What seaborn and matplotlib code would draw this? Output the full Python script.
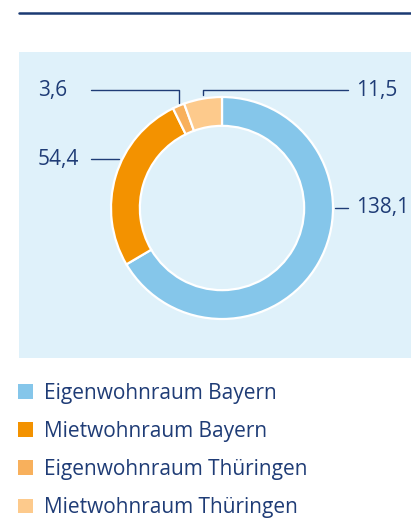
import numpy as np
import matplotlib
matplotlib.use("Agg")
import matplotlib.pyplot as plt
from matplotlib.lines import Line2D
import seaborn as sns

sns.set_theme(style="white")
plt.rcParams['font.family'] = ['Open Sans', 'DejaVu Sans']

# data
categories = ['Eigenwohnraum Bayern', 'Mietwohnraum Bayern',
              'Eigenwohnraum Thüringen', 'Mietwohnraum Thüringen']
values = [138.1, 54.4, 3.6, 11.5]
value_labels = ['138,1', '54,4', '3,6', '11,5']
colors = ['#85c6ea', '#f39200', '#f8b05c', '#fdca8c']

navy = '#1f3c76'
panel = '#dff1fa'

W, H = 411, 522
fig = plt.figure(figsize=(W / 100, H / 100), dpi=100)

# top rule
fig.add_artist(Line2D([19 / W, 1], [1 - 12.5 / H, 1 - 12.5 / H], color='#1b3a73', lw=1.8))

# chart panel (pixels: x 19..411, y 52..358), donut center (222, 208), r = 111 px
left, top, bottom = 19, 52, 358
cx, cy, rpx = 222, 208, 111
ax = fig.add_axes([left / W, 1 - bottom / H, (W - left) / W, (bottom - top) / H])

wedges, _ = ax.pie(values, colors=colors, startangle=90, counterclock=False,
                   radius=1.0,
                   wedgeprops=dict(width=0.26, edgecolor='white', linewidth=1.6))
ax.set_xlim(-(cx - left) / rpx, (W - cx) / rpx)
ax.set_ylim(-(bottom - cy) / rpx, (cy - top) / rpx)
ax.set_aspect('auto')
ax.set_frame_on(True)
ax.set_facecolor(panel)
for s in ax.spines.values():
    s.set_visible(False)
ax.set_xticks([])
ax.set_yticks([])

# leader lines and value labels
lw = 1.0
fs = 15
x_left_text, x_left_line = -1.658, -1.18
x_right_text, x_right_line = 1.207, 1.135
top_y = 1.063

for w, lab in zip(wedges, value_labels):
    mid = np.deg2rad((w.theta1 + w.theta2) / 2)
    if lab == '3,6':
        ex, ey = np.cos(mid), np.sin(mid) + 0.03
        ax.plot([x_left_line, ex, ex], [top_y, top_y, ey], color=navy, lw=lw)
        ax.text(x_left_text, top_y, lab, ha='left', va='center', color=navy, fontsize=fs)
    elif lab == '11,5':
        ex, ey = np.cos(mid), np.sin(mid) + 0.03
        ax.plot([ex, ex, x_right_line], [ey, top_y, top_y], color=navy, lw=lw)
        ax.text(x_right_text, top_y, lab, ha='left', va='center', color=navy, fontsize=fs)
    elif lab == '54,4':
        ly = 0.441
        ex = -np.sqrt(1 - ly ** 2) - 0.03
        ax.plot([x_left_line, ex], [ly, ly], color=navy, lw=lw)
        ax.text(x_left_text, ly, lab, ha='left', va='center', color=navy, fontsize=fs)
    else:
        ly = 0.0
        ax.plot([1.018, x_right_line], [ly, ly], color=navy, lw=lw)
        ax.text(x_right_text, ly, lab, ha='left', va='center', color=navy, fontsize=fs)

# legend
leg = fig.legend(wedges, categories, loc='upper left',
                 bbox_to_anchor=(18 / W, 1 - 383 / H), frameon=False,
                 fontsize=15, handlelength=0.72, handleheight=0.72,
                 handletextpad=0.52, labelspacing=0.82, borderpad=0,
                 borderaxespad=0)
for t in leg.get_texts():
    t.set_color(navy)
for h in leg.legend_handles:
    h.set_edgecolor('none')

fig.savefig('out.png', dpi=100)
